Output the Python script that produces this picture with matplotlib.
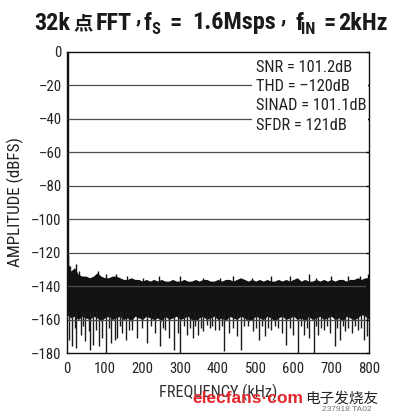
import numpy as np
import matplotlib
matplotlib.use("Agg")
import matplotlib.pyplot as plt
from matplotlib import font_manager as fm
from matplotlib.patches import Rectangle

# ---------------- data ----------------
freq_khz = list(range(0, 801, 10))
noise_top_db = [
    -124, -131, -129, -133, -134, -134, -135, -134, -132, -134,
    -135, -135, -134, -134, -135, -136, -136, -135, -136, -136,
    -137, -136, -137, -136, -137, -136, -137, -137, -136, -137,
    -137, -136, -137, -137, -136, -137, -136, -136, -137, -137,
    -136, -137, -136, -136, -137, -136, -135, -136, -137, -136,
    -137, -136, -137, -136, -137, -137, -136, -137, -136, -137,
    -136, -135, -137, -136, -137, -137, -136, -137, -136, -137,
    -136, -137, -136, -136, -137, -136, -136, -135, -136, -135,
    -135]
noise_bottom_db = [
    -157, -159, -158, -160, -158, -159, -160, -158, -159, -161,
    -159, -158, -160, -159, -158, -160, -159, -161, -158, -159,
    -160, -158, -159, -160, -159, -161, -158, -160, -159, -158,
    -160, -159, -158, -160, -161, -159, -158, -160, -159, -158,
    -160, -159, -161, -158, -159, -160, -158, -159, -161, -160,
    -158, -159, -160, -158, -159, -161, -159, -158, -160, -159,
    -158, -160, -159, -161, -158, -160, -159, -158, -160, -159,
    -158, -160, -159, -161, -158, -159, -160, -159, -157, -158,
    -160]
spike_down_khz = [5, 14, 25, 36, 47, 58, 61, 70, 85, 94, 103, 116, 127, 132, 146, 155, 173, 186, 198,
                  211, 233, 246, 260, 271, 284, 293, 300, 317, 333, 347, 361, 379, 392,
                  403, 417, 430, 450, 461, 479, 492, 509, 525, 540, 558, 570, 580, 598,
                  612, 627, 642, 653, 665, 680, 697, 709, 722, 737, 755, 770, 786, 795,
                  20, 42, 77, 110, 140, 165, 222, 253, 310, 325, 340, 355, 370, 385, 410, 440,
                  470, 500, 517, 532, 550, 590, 620, 635, 660, 672, 690, 715, 730, 745, 762, 778]
spike_down_db = [-172, -176, -177, -169, -173, -167, -178, -175, -176, -171, -180, -174, -172, -171, -168, -172, -166, -171, -165,
                 -174, -168, -176, -166, -171, -178, -168, -180, -169, -171, -169, -167, -165, -166,
                 -166, -179, -168, -170, -178, -164, -167, -172, -170, -166, -165, -168, -175, -169,
                 -180, -169, -171, -180, -169, -166, -168, -176, -172, -167, -168, -166, -172, -170,
                 -165, -164, -166, -165, -164, -166, -164, -165, -164, -165, -164, -165, -163, -164, -164, -165,
                 -164, -165, -164, -165, -164, -165, -164, -165, -164, -165, -164, -165, -164, -165, -164, -165]
spike_up_khz = [2, 8, 25, 33, 82, 104, 129, 160, 200, 245, 300, 360, 405, 440, 490, 540, 590, 640, 660, 700, 745, 776, 798]
spike_up_db = [-122, -128, -127, -131, -131, -133, -133, -134, -135, -134, -134, -135, -135, -134, -135, -134, -134, -133, -135, -134, -134, -134, -133]
fund_khz = [2]
fund_db = [0]

y_ticks = [0, -20, -40, -60, -80, -100, -120, -140, -160, -180]
y_tick_labels = ["0", "\u201320", "\u201340", "\u201360", "\u201380", "\u2013100", "\u2013120", "\u2013140", "\u2013160", "\u2013180"]
x_ticks = [0, 100, 200, 300, 400, 500, 600, 700, 800]
x_tick_labels = ["0", "100", "200", "300", "400", "500", "600", "700", "800"]
stats_lines = ["SNR = 101.2dB", "THD = \u2013120dB", "SINAD = 101.1dB", "SFDR = 121dB"]
x_label = "FREQUENCY (kHz)"
y_label = "AMPLITUDE (dBFS)"


def has_font(name):
    try:
        fm.findfont(fm.FontProperties(family=name), fallback_to_default=False)
        return True
    except Exception:
        return False


SANS = "Liberation Sans" if has_font("Liberation Sans") else "DejaVu Sans"

COND_PREF = ["Liberation Sans Narrow", "Roboto Condensed", "Arial Narrow", "Noto Sans",
             "Open Sans Condensed", "Open Sans", "Roboto", "DejaVu Sans Condensed", "DejaVu Sans"]


def _wnum(w):
    if isinstance(w, (int, float)):
        return int(w)
    return {"bold": 700, "normal": 400, "regular": 400, "book": 400, "medium": 500}.get(str(w).lower(), 400)


def find_condensed(bold):
    best = None
    for f in fm.fontManager.ttflist:
        name = f.name
        st = str(f.stretch).lower()
        cond = ("narrow" in name.lower() or "condensed" in name.lower()
                or st in ("condensed", "semi-condensed"))
        if not cond:
            continue
        if "extra" in name.lower() or "ultra" in name.lower():
            continue
        if str(f.style) != "normal":
            continue
        w = _wnum(f.weight)
        if bold and not (600 <= w <= 800):
            continue
        if not bold and not (380 <= w <= 450):
            continue
        rank = COND_PREF.index(name) if name in COND_PREF else len(COND_PREF)
        if st == "semi-condensed":
            rank += 0.5
        if best is None or rank < best[0]:
            best = (rank, f.fname)
    return best[1] if best else None


cond_reg = find_condensed(False)
cond_bold = find_condensed(True)


def make_fp(path, bold):
    if path:
        return fm.FontProperties(fname=path)
    return fm.FontProperties(family=SANS, weight="bold" if bold else "normal")


FP_REG = make_fp(cond_reg, False)
FP_BOLD = make_fp(cond_bold, True)

W, H = 396, 419
fig = plt.figure(figsize=(W / 100, H / 100), dpi=100)
renderer = fig.canvas.get_renderer()


def sized(fp, size):
    p = fp.copy()
    p.set_size(size)
    return p


def text_width(s, fp, size):
    t = fig.text(0, 0, s, fontproperties=sized(fp, size))
    w = t.get_window_extent(renderer).width
    t.remove()
    return w


def fit(s, fp, target_px, cap):
    return min(10.0 * target_px / text_width(s, fp, 10.0), cap)


ax = fig.add_axes([67 / W, 66 / H, 302 / W, 301 / H])
ink = "#111111"

# noise floor band
ax.fill_between(freq_khz, noise_bottom_db, noise_top_db, color=ink, lw=0, zorder=1)
ax.vlines(spike_down_khz, -155, spike_down_db, color="#1a1a1a", lw=1.0, zorder=1)
ax.vlines(spike_up_khz, -138, spike_up_db, color=ink, lw=1.0, zorder=1)
ax.vlines(fund_khz, -130, fund_db, color=ink, lw=1.0, zorder=1)

# horizontal grid
for yv in y_ticks[1:-1]:
    ax.axhline(yv, color="#4d4d4d", lw=0.9, zorder=1.5)

ax.set_xlim(0, 800)
ax.set_ylim(-180, 0)
ax.set_yticks(y_ticks)
ax.set_yticklabels(y_tick_labels)
ax.set_xticks(x_ticks)
ax.set_xticklabels(x_tick_labels)
ax.tick_params(axis="y", left=False, right=True, direction="in", length=2.5, width=1.0,
               pad=3.8, labelcolor="#222222")
ax.tick_params(axis="x", bottom=False, direction="in", length=0, pad=6.5,
               labelcolor="#222222")
tick_size = fit("\u2013100", FP_REG, 30, 12.5)
for lab in ax.get_xticklabels() + ax.get_yticklabels():
    lab.set_fontproperties(sized(FP_REG, tick_size))
for sp in ax.spines.values():
    sp.set_linewidth(1.0)
    sp.set_color(ink)

ax.set_ylabel(y_label, fontproperties=sized(FP_REG, fit(y_label, FP_REG, 130, 12.5)),
              color="#222222", va="center")
ax.yaxis.set_label_coords(-0.172, 0.5)
ax.set_xlabel(x_label, fontproperties=sized(FP_REG, fit(x_label, FP_REG, 118, 12)),
              color="#333333", va="center")
ax.xaxis.set_label_coords(0.5, -0.13)

# stats box
ax.add_patch(Rectangle((0.612, 0.70), 0.384, 0.29, transform=ax.transAxes,
                       facecolor="white", edgecolor="none", zorder=2))
stat_size = fit("SINAD = 101.1dB", FP_REG, 110, 12)
stat_y = [0.9346, 0.8714, 0.8073, 0.7409]
for s, yy in zip(stats_lines, stat_y):
    ax.text(0.626, yy, s, transform=ax.transAxes, fontproperties=sized(FP_REG, stat_size),
            color="#222222", va="baseline", ha="left", zorder=3)

# title built from pieces placed at the reference's positions
TY = 1 - 29.5 / H
tsz = fit("1.6Msps", FP_BOLD, 84, 18)
ssz = tsz * 0.68
CJK = ["Noto Sans CJK SC", SANS]


def tpiece(xpx, s, fp, size, dy=0, ha="left"):
    fig.text(xpx / W, TY - dy / H, s, fontproperties=sized(fp, size),
             color="#1a1a1a", ha=ha, va="baseline")


tpiece(34, "32k", FP_BOLD, tsz)
tpiece(73, "点", fm.FontProperties(family=CJK, weight="bold"), tsz * 0.8)
tpiece(132, "FFT", FP_BOLD, tsz, ha="right")
tpiece(138, ",", FP_BOLD, tsz * 0.9, dy=-7, ha="center")
tpiece(144, "f", FP_BOLD, tsz)
tpiece(151, "S", FP_BOLD, ssz, dy=4)
tpiece(169, "=", FP_BOLD, tsz)
tpiece(275.5, "1.6Msps", FP_BOLD, tsz, ha="right")
tpiece(283.5, ",", FP_BOLD, tsz * 0.9, dy=-7, ha="center")
tpiece(295, "f", FP_BOLD, tsz)
tpiece(301.5, "IN", FP_BOLD, ssz, dy=4)
tpiece(323, "=", FP_BOLD, tsz)
tpiece(388, "2kHz", FP_BOLD, tsz, ha="right")

# source watermark
fig.text(192 / W, 1 - 398 / H, "elecfans\u00b7com", fontsize=12.5, family=SANS, weight="bold",
         color="#e2262b", ha="left", va="center")
fig.text(305 / W, 1 - 399 / H, "电子发烧友", fontsize=10.5, family=CJK,
         color="#222222", ha="left", va="center")
fig.text(322 / W, 1 - 409 / H, "237918 TA02", fontsize=6, family=SANS,
         color="#777777", ha="left", va="center")

fig.savefig("out.png", dpi=100, facecolor="white")
